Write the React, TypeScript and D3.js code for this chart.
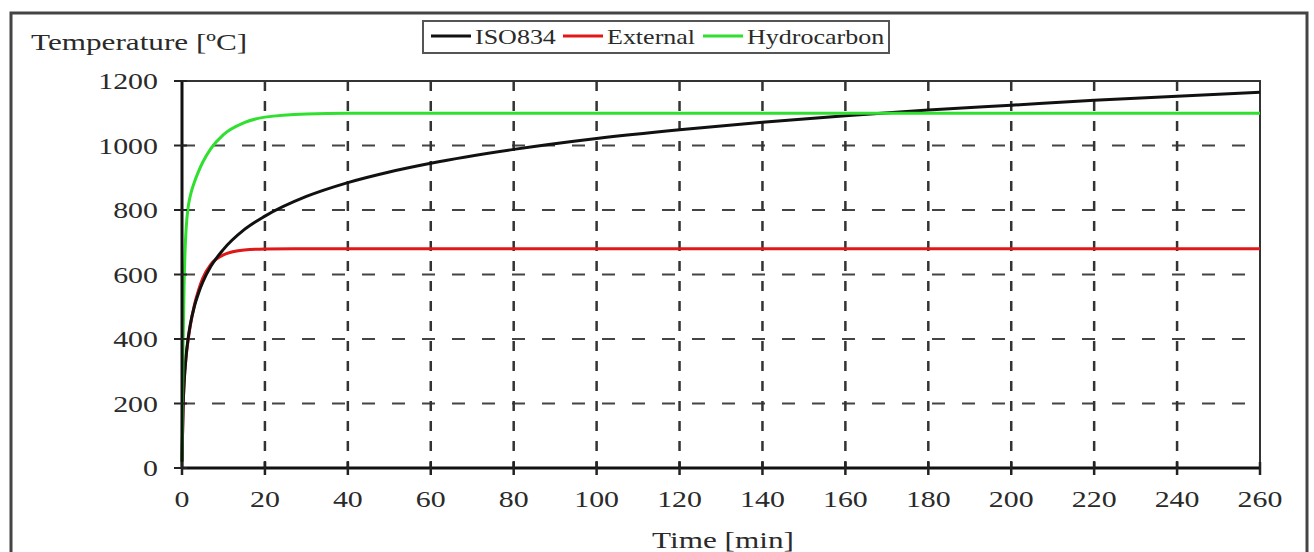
import { useEffect, useRef } from "react";
import * as d3 from "d3";

// time points [min] and curve values
const isoTime = [0, 0.25, 0.5, 1, 1.5, 2, 3, 4, 5, 7, 10, 15, 20, 30, 40, 50, 60, 80, 100, 120, 140, 160, 180, 200, 220, 240, 260];
const isoTemp = [20, 185, 261, 349, 404, 445, 502, 543, 576, 626, 678, 739, 781, 842, 885, 918, 945, 988, 1022, 1049, 1072, 1092, 1110, 1125, 1140, 1153, 1165];

const extTime = [0, 0.25, 0.5, 1, 1.5, 2, 3, 4, 5, 7, 10, 15, 20, 30, 60, 260];
const extTemp = [20, 182, 263, 346, 399, 441, 506, 552, 588, 632, 661, 676, 679, 680, 680, 680];

const hcTime = [0, 0.25, 0.5, 0.75, 1, 1.5, 2, 3, 4, 5, 7, 10, 15, 20, 30, 40, 60, 260];
const hcTemp = [20, 373, 568, 678, 743, 810, 844, 887, 920, 948, 991, 1034, 1071, 1088, 1098, 1100, 1100, 1100];

const seriesNames = ["ISO834", "External", "Hydrocarbon"];
const seriesColors = ["#111111", "#e01818", "#2fe02f"];

const xTicks = d3.range(0, 261, 20);
const yTicks = d3.range(0, 1201, 200);

export default function App() {
  const ref = useRef<SVGSVGElement>(null);

  useEffect(() => {
    const width = 1314;
    const height = 552;
    const left = 182, right = 1260, top = 81, bottom = 468;
    const sx = 1.3; // glyphs in the picture are stretched horizontally

    const svg = d3.select(ref.current);
    svg.selectAll("*").remove();
    svg.attr("viewBox", [0, 0, width, height]).attr("width", width).attr("height", height);

    const x = d3.scaleLinear([0, 260], [left, right]);
    const y = d3.scaleLinear([0, 1200], [bottom, top]);

    const label = (tx: number, ty: number, s: string, size: number, anchor: string) =>
      svg.append("text")
        .attr("transform", `translate(${tx},${ty}) scale(${sx},1)`)
        .attr("text-anchor", anchor)
        .attr("font-family", "'Liberation Serif', 'Times New Roman', serif")
        .attr("font-size", size)
        .attr("fill", "#2a2a2a")
        .text(s);

    // outer frame
    svg.append("rect")
      .attr("x", 11).attr("y", 13).attr("width", 1296).attr("height", 580)
      .attr("fill", "none").attr("stroke", "#444").attr("stroke-width", 3);

    // grid
    svg.append("g")
      .selectAll("line")
      .data(yTicks.filter(d => d > 0 && d < 1200))
      .join("line")
      .attr("x1", left).attr("x2", right)
      .attr("y1", d => y(d)).attr("y2", d => y(d))
      .attr("stroke", "#444").attr("stroke-width", 2)
      .attr("stroke-dasharray", "13 17");

    svg.append("g")
      .selectAll("line")
      .data(xTicks.filter(d => d > 0 && d < 260))
      .join("line")
      .attr("x1", d => x(d)).attr("x2", d => x(d))
      .attr("y1", top).attr("y2", bottom)
      .attr("stroke", "#333").attr("stroke-width", 2.5)
      .attr("stroke-dasharray", "10 10");

    // top and right borders
    svg.append("path")
      .attr("d", `M${left},${y(1200)}H${x(260)}V${bottom}`)
      .attr("fill", "none").attr("stroke", "#333").attr("stroke-width", 2);

    // curves
    const line = d3.line<[number, number]>()
      .x(d => x(d[0]))
      .y(d => y(d[1]))
      .curve(d3.curveMonotoneX);

    const series: [number, number][][] = [
      isoTime.map((t, i) => [t, isoTemp[i]]),
      extTime.map((t, i) => [t, extTemp[i]]),
      hcTime.map((t, i) => [t, hcTemp[i]]),
    ];

    [1, 0, 2].forEach(k => {
      svg.append("path")
        .attr("fill", "none")
        .attr("stroke", seriesColors[k])
        .attr("stroke-width", 3)
        .attr("d", line(series[k]));
    });

    // axes
    svg.append("line")
      .attr("x1", left).attr("x2", left).attr("y1", top - 1).attr("y2", bottom + 1)
      .attr("stroke", "#111").attr("stroke-width", 3);
    svg.append("line")
      .attr("x1", left - 1).attr("x2", right + 1).attr("y1", bottom).attr("y2", bottom)
      .attr("stroke", "#111").attr("stroke-width", 3);

    svg.append("g").selectAll("line")
      .data(yTicks)
      .join("line")
      .attr("x1", left - 8).attr("x2", left + 5)
      .attr("y1", d => y(d)).attr("y2", d => y(d))
      .attr("stroke", "#222").attr("stroke-width", 2);

    svg.append("g").selectAll("line")
      .data(xTicks)
      .join("line")
      .attr("x1", d => x(d)).attr("x2", d => x(d))
      .attr("y1", bottom - 6).attr("y2", bottom + 7)
      .attr("stroke", "#222").attr("stroke-width", 2.5);

    yTicks.forEach(d => label(158, y(d) + 8, String(d), 23, "end"));
    xTicks.forEach(d => label(x(d), 507, String(d), 23, "middle"));

    label(31, 50, "Temperature [ºC]", 24, "start");
    label(723, 548, "Time [min]", 24, "middle");

    // legend
    svg.append("rect")
      .attr("x", 423).attr("y", 21).attr("width", 466).attr("height", 32)
      .attr("fill", "white").attr("stroke", "#555").attr("stroke-width", 2);

    const legendX = [431, 563, 703];
    seriesNames.forEach((name, k) => {
      svg.append("line")
        .attr("x1", legendX[k]).attr("x2", legendX[k] + 40)
        .attr("y1", 36).attr("y2", 36)
        .attr("stroke", seriesColors[k]).attr("stroke-width", 3);
      label(legendX[k] + 44, 44, name, 20, "start");
    });
  }, []);

  return <svg ref={ref} style={{ position: "absolute", left: 0, top: 0 }}></svg>;
}
